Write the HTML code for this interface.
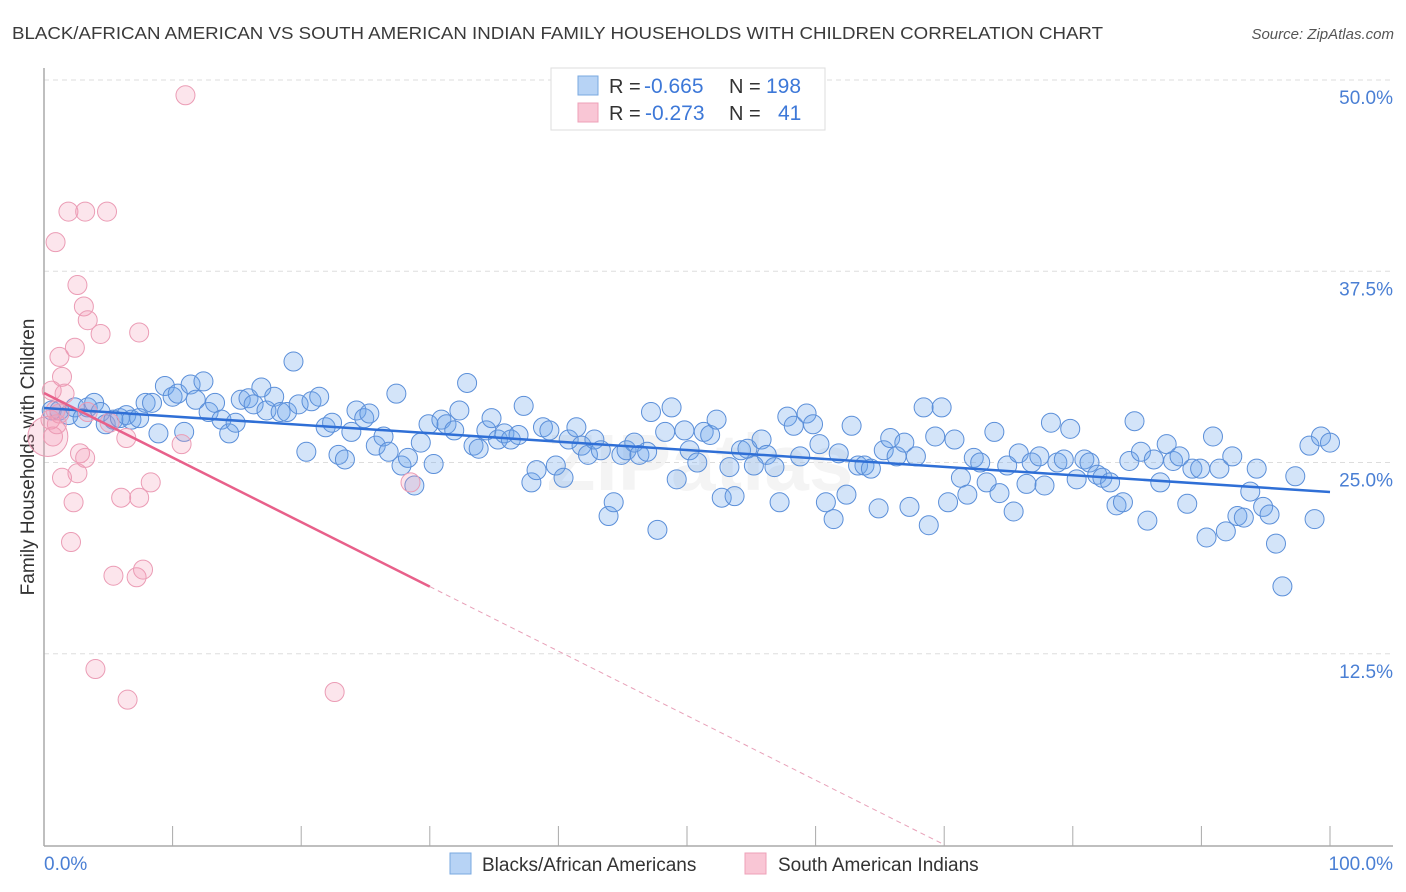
<!DOCTYPE html>
<html><head><meta charset="utf-8"><style>
body{margin:0;background:#fff;font-family:"Liberation Sans",sans-serif}
svg{display:block}
</style></head><body>
<svg id="chart" width="1406" height="892" viewBox="0 0 1406 892" xmlns="http://www.w3.org/2000/svg">
<text x="12" y="39" font-size="17.5" fill="#3a3a3a" textLength="1091" lengthAdjust="spacingAndGlyphs">BLACK/AFRICAN AMERICAN VS SOUTH AMERICAN INDIAN FAMILY HOUSEHOLDS WITH CHILDREN CORRELATION CHART</text>
<text x="1394" y="39" font-size="15" fill="#555" font-style="italic" text-anchor="end">Source: ZipAtlas.com</text>
<text transform="translate(34,457) rotate(-90)" font-size="19" fill="#333" text-anchor="middle">Family Households with Children</text>
<text x="700" y="490" font-size="80" fill="#000" opacity="0.04" text-anchor="middle" font-weight="bold">ZIPatlas</text>
<g id="grid"></g><g id="pts"></g><g id="lines"></g>
<g>
<rect x="551" y="68" width="274" height="62" fill="#fff" stroke="#ddd"/>
<rect x="578" y="76" width="20" height="19" fill="#b7d3f5" stroke="#7aa8e0"/>
<rect x="578" y="103" width="20" height="19" fill="#f9c6d5" stroke="#eea0b8"/>
<text x="609" y="93" font-size="20" fill="#333">R = <tspan fill="#3d78d8" x="644" font-size="21">-0.665</tspan><tspan x="729">N = </tspan><tspan fill="#3d78d8" x="766" font-size="21">198</tspan></text>
<text x="609" y="120" font-size="20" fill="#333">R = <tspan fill="#3d78d8" x="645" font-size="21">-0.273</tspan><tspan x="729">N = </tspan><tspan fill="#3d78d8" x="778" font-size="21">41</tspan></text>
</g>
<g>
<rect x="450" y="853" width="21" height="21" fill="#b7d3f5" stroke="#7aa8e0"/>
<text x="482" y="871" font-size="19" fill="#333">Blacks/African Americans</text>
<rect x="745" y="853" width="21" height="21" fill="#f9c6d5" stroke="#eea0b8"/>
<text x="778" y="871" font-size="19" fill="#333">South American Indians</text>
</g>
</svg>
<script>
const yTicks=[12.5,25,37.5,50];
const yTickLabels=["12.5%","25.0%","37.5%","50.0%"];
const xTickVals=[0,10,20,30,40,50,60,70,80,90,100];
const blueX=[0.6,1.2,1.9,2.4,3.0,3.4,3.9,4.4,4.8,5.4,5.9,6.4,6.8,7.4,7.9,8.4,8.9,9.4,10.0,10.4,10.9,11.4,11.8,12.4,12.8,13.3,13.8,14.4,14.9,15.3,15.9,16.3,16.9,17.3,17.9,18.4,18.9,19.4,19.8,20.4,20.8,21.4,21.9,22.4,22.9,23.4,23.9,24.3,24.9,25.3,25.8,26.4,26.8,27.4,27.8,28.3,28.8,29.3,29.9,30.3,30.9,31.3,31.9,32.3,32.9,33.4,33.8,34.4,34.8,35.3,35.8,36.3,36.9,37.3,37.9,38.3,38.8,39.3,39.8,40.4,40.8,41.4,41.8,42.3,42.8,43.3,43.9,44.3,44.9,45.3,45.9,46.3,46.9,47.2,47.7,48.3,48.8,49.2,49.8,50.2,50.8,51.3,51.8,52.3,52.7,53.3,53.7,54.2,54.7,55.2,55.8,56.2,56.8,57.2,57.8,58.3,58.8,59.3,59.8,60.3,60.8,61.4,61.8,62.4,62.8,63.3,63.8,64.3,64.9,65.3,65.8,66.3,66.9,67.3,67.8,68.4,68.8,69.3,69.8,70.3,70.8,71.3,71.8,72.3,72.8,73.3,73.9,74.3,74.9,75.4,75.8,76.4,76.8,77.4,77.8,78.3,78.8,79.3,79.8,80.3,80.9,81.3,81.9,82.3,82.9,83.4,83.9,84.4,84.8,85.3,85.8,86.3,86.8,87.3,87.8,88.3,88.9,89.3,89.9,90.4,90.9,91.4,91.9,92.4,92.8,93.3,93.8,94.3,94.8,95.3,95.8,96.3,97.3,98.4,98.8,99.3,100];
const blueY=[28.4,28.4,28.1,28.6,27.9,28.6,28.9,28.3,27.5,27.8,27.9,28.1,27.8,27.9,28.9,28.9,26.9,30.0,29.3,29.5,27.0,30.1,29.1,30.3,28.3,28.9,27.8,26.9,27.6,29.1,29.2,28.8,29.9,28.4,29.3,28.3,28.3,31.6,28.8,25.7,29.0,29.3,27.3,27.6,25.5,25.2,27.0,28.4,27.9,28.2,26.1,26.7,25.7,29.5,24.8,25.3,23.5,26.3,27.5,24.9,27.8,27.5,27.1,28.4,30.2,26.1,25.9,27.1,27.9,26.5,26.9,26.5,26.8,28.7,23.7,24.5,27.3,27.1,24.8,24.0,26.5,27.3,26.1,25.5,26.5,25.8,21.5,22.4,25.5,25.8,26.3,25.5,25.7,28.3,20.6,27.0,28.6,23.9,27.1,25.8,25.0,27.0,26.8,27.8,22.7,24.7,22.8,25.8,25.9,24.8,26.5,25.5,24.7,22.4,28.0,27.4,25.4,28.2,27.5,26.2,22.4,21.3,25.6,22.9,27.4,24.8,24.8,24.6,22.0,25.8,26.6,25.4,26.3,22.1,25.4,28.6,20.9,26.7,28.6,22.4,26.5,24.0,22.9,25.3,25.0,23.7,27.0,23.0,24.8,21.8,25.6,23.6,25.0,25.4,23.5,27.6,25.0,25.2,27.2,23.9,25.2,25.0,24.2,24.0,23.7,22.2,22.4,25.1,27.7,25.7,21.2,25.2,23.7,26.2,25.1,25.4,22.3,24.6,24.6,20.1,26.7,24.6,20.5,25.4,21.5,21.4,23.1,24.6,22.1,21.6,19.7,16.9,24.1,26.1,21.3,26.7,26.3];
const pinkX=[0.5,0.7,0.9,1.2,1.4,1.6,1.9,2.1,2.3,2.4,2.6,2.6,2.8,3.1,3.2,3.2,3.4,3.4,4.0,4.4,4.9,5.1,5.4,6.0,6.4,6.5,7.2,7.4,7.4,7.7,8.3,10.7,11.0,22.6,28.5,0.6,0.9,1.2,1.4,0.3,1.0];
const pinkY=[27.8,26.7,39.4,31.9,30.6,29.5,41.4,19.8,22.4,32.5,36.6,24.3,25.6,35.2,41.4,25.3,34.3,28.3,11.5,33.4,41.4,27.6,17.6,22.7,26.6,9.5,17.5,33.5,22.7,18.0,23.7,26.2,49.0,10.0,23.7,29.7,28.4,28.2,24.0,26.7,27.5];
const blueFit=[28.56,23.07];
const pinkFit=[29.54,-0.4217];

const NS="http://www.w3.org/2000/svg";
const X0=44,X1=1330,Y0=845,YS=765/50;
const sx=v=>X0+(X1-X0)*v/100, sy=v=>Y0-v*YS;
function mk(t,a,p){const e=document.createElementNS(NS,t);for(const k in a)e.setAttribute(k,a[k]);p.appendChild(e);return e;}
const grid=document.getElementById('grid');
yTicks.forEach((v,i)=>{
 const l=mk('line',{x1:X0,x2:1393,y1:sy(v),y2:sy(v),stroke:'#ddd','stroke-dasharray':'5,4'},grid);
 
 
 const t=mk('text',{x:1393,y:sy(v)+24,'font-size':19,fill:'#4a7fd4','text-anchor':'end'},grid);
 t.textContent=yTickLabels[i];
 
 
});
mk('line',{x1:X0,x2:X0,y1:68,y2:846,stroke:'#aaa','stroke-width':1.5},grid);
mk('line',{x1:X0,x2:1393,y1:846,y2:846,stroke:'#aaa','stroke-width':1.5},grid);
xTickVals.forEach(v=>{if(v>0){const t=mk('line',{x1:sx(v),x2:sx(v),y1:826,y2:846,stroke:'#aaa'},grid);
 
 }});
let t0=mk('text',{x:X0,y:870,'font-size':19,fill:'#4a7fd4'},grid);t0.textContent='0.0%';


let t1=mk('text',{x:1393,y:870,'font-size':19,fill:'#4a7fd4','text-anchor':'end'},grid);t1.textContent='100.0%';


const pts=document.getElementById('pts');
blueX.forEach((x,i)=>{const c=mk('circle',{cx:sx(x),cy:sy(blueY[i]),r:9.5,fill:'rgba(110,165,235,0.3)',stroke:'#5b8fd9','stroke-width':1},pts);
 
 });
pinkX.forEach((x,i)=>{const c=mk('circle',{cx:sx(x),cy:sy(pinkY[i]),r:(i==39?20:9.5),fill:'rgba(245,150,180,0.25)',stroke:'#eb9cb5','stroke-width':1},pts);
 
 });
const ln=document.getElementById('lines');
let b=mk('line',{x1:sx(0),y1:sy(blueFit[0]),x2:sx(100),y2:sy(blueFit[1]),stroke:'#2f6fd6','stroke-width':2.5},ln);


const pAt=x=>pinkFit[0]+pinkFit[1]*x;
let p1=mk('line',{x1:sx(0),y1:sy(pAt(0)),x2:sx(30),y2:sy(pAt(30)),stroke:'#e8608a','stroke-width':2.5},ln);


const xEnd=-pinkFit[0]/pinkFit[1];
let p2=mk('line',{x1:sx(30),y1:sy(pAt(30)),x2:sx(xEnd),y2:sy(0),stroke:'#e8a0b8','stroke-width':1,'stroke-dasharray':'5,4'},ln);


</script>
</body></html>
